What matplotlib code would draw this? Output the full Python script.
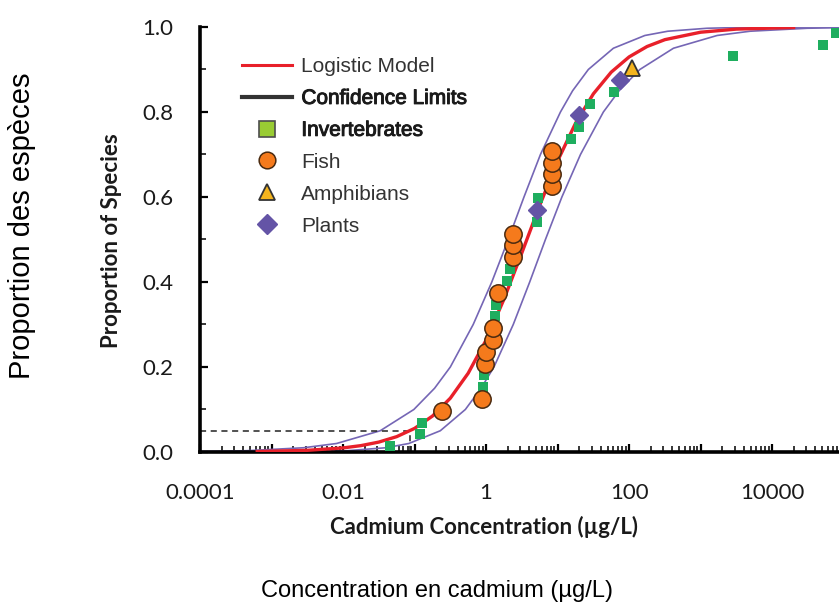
import numpy as np
import matplotlib
matplotlib.use("Agg")
import matplotlib.pyplot as plt
import matplotlib.patheffects as pe
from matplotlib.lines import Line2D
from matplotlib.ticker import LogLocator, NullFormatter, MultipleLocator, FormatStrFormatter

# fitted logistic model (log10 concentration, proportion)
model_log_conc = [-3.2, -2.5, -2.0, -1.75, -1.5, -1.25, -1.0, -0.75, -0.5, -0.25, 0.0, 0.25,
                  0.5, 0.75, 1.0, 1.25, 1.5, 1.75, 2.0, 2.25, 2.5, 3.0, 3.5, 4.3]
model_prop = [0.0011, 0.0039, 0.0096, 0.0150, 0.0233, 0.0361, 0.0555, 0.0845, 0.1266, 0.1854,
              0.2633, 0.3595, 0.4685, 0.5805, 0.6848, 0.7733, 0.8427, 0.8938, 0.9296, 0.9540,
              0.9702, 0.9877, 0.9950, 0.9988]

# confidence limits
upper_log_conc = [-4.07, -3.35, -2.55, -2.09, -1.48, -1.01, -0.72, -0.50, -0.18, 0.08, 0.31,
                  0.53, 0.76, 1.04, 1.21, 1.43, 1.78, 2.22, 2.54, 3.09, 3.58, 4.61, 4.95]
upper_prop = [0.001, 0.003, 0.01, 0.02, 0.05, 0.1, 0.15, 0.2, 0.3, 0.4, 0.5,
              0.6, 0.7, 0.8, 0.85, 0.9, 0.95, 0.98, 0.99, 0.997, 0.999, 0.9999, 1.0]
lower_log_conc = [-3.47, -2.44, -1.95, -1.40, -1.08, -0.64, -0.29, -0.07, 0.11, 0.38, 0.61, 0.83,
                  1.06, 1.32, 1.64, 1.86, 2.15, 2.62, 3.23, 3.69, 4.49, 5.21]
lower_prop = [0.0001, 0.001, 0.003, 0.01, 0.02, 0.05, 0.1, 0.15, 0.2, 0.3, 0.4, 0.5,
              0.6, 0.7, 0.8, 0.85, 0.9, 0.95, 0.98, 0.99, 0.997, 0.999]

hc5 = 0.087
hc5_prop = 0.05

# species data (ug/L, cumulative proportion)
invert_conc = [0.046, 0.119, 0.127, 0.91, 0.95, 1.34, 1.38, 1.97, 2.17, 5.16, 5.33,
               15.5, 20.0, 28.5, 61.7, 2850, 51600, 78500]
invert_prop = [0.014, 0.042, 0.069, 0.153, 0.181, 0.319, 0.347, 0.403, 0.431, 0.542, 0.597,
               0.736, 0.764, 0.819, 0.847, 0.931, 0.958, 0.986]
fish_conc = [0.243, 0.89, 0.98, 1.0, 1.25, 1.25, 1.47, 2.39, 2.39, 2.39,
             8.37, 8.37, 8.37, 8.37]
fish_prop = [0.097, 0.125, 0.208, 0.236, 0.264, 0.292, 0.375, 0.458, 0.486, 0.514,
             0.625, 0.653, 0.681, 0.708]
amph_conc = [110]
amph_prop = [0.903]
plant_conc = [5.16, 20.0, 74.8]
plant_prop = [0.569, 0.792, 0.875]

xtick_vals = [1e-4, 1e-3, 1e-2, 1e-1, 1, 10, 100, 1000, 10000]
xtick_labels = ["0.0001", "", "0.01", "", "1", "", "100", "", "10000"]

fig = plt.figure(figsize=(8.39, 6.05), dpi=100)
ax = fig.add_axes([200 / 839, 0.2529, 639 / 839, 0.7025])

red = "#e8202a"
purple = "#7566b5"

ax.plot(10 ** np.array(upper_log_conc), upper_prop, color=purple, lw=1.2, zorder=2)
ax.plot(10 ** np.array(lower_log_conc), lower_prop, color=purple, lw=1.2, zorder=2)
ax.plot(10 ** np.array(model_log_conc), model_prop, color=red, lw=2.4, zorder=3)

ax.plot([1e-4, hc5], [hc5_prop, hc5_prop], color="#222222", lw=1.1, ls=(0, (4, 3)), zorder=2)
ax.plot([hc5, hc5], [0, hc5_prop], color="#222222", lw=1.1, ls=(0, (4, 3)), zorder=2)

ax.plot(invert_conc, invert_prop, "s", color="#1fae5f", ms=7.8, mew=0, zorder=4, clip_on=False)
ax.plot(fish_conc, fish_prop, "o", color="#f57a1c", mec="#4a2a10", mew=1.1, ms=12.5, zorder=5)
ax.plot(amph_conc, amph_prop, "^", color="#f4b41e", mec="#333333", mew=1.3, ms=12, zorder=5)
ax.plot(plant_conc, plant_prop, "D", color="#6454a6", mec="#6454a6", ms=9.5, zorder=5)

ax.set_xscale("log")
ax.set_xlim(1e-4, 8.6e4)
ax.set_ylim(0, 1.0)

ax.set_xticks(xtick_vals)
ax.set_xticklabels(xtick_labels)
ax.xaxis.set_minor_locator(LogLocator(base=10, subs=np.arange(2, 10), numticks=30))
ax.xaxis.set_minor_formatter(NullFormatter())
ax.yaxis.set_major_locator(MultipleLocator(0.2))
ax.yaxis.set_minor_locator(MultipleLocator(0.1))
ax.yaxis.set_major_formatter(FormatStrFormatter("%.1f"))

ax.tick_params(axis="both", which="major", direction="in", length=6, width=1.6, color="black",
               labelsize=16, labelcolor="#1a1a1a")
ax.tick_params(axis="both", which="minor", direction="in", length=4, width=1.1, color="black")
ax.tick_params(axis="x", which="major", pad=22)
ax.tick_params(axis="y", which="major", pad=19)
for lab in ax.get_xticklabels() + ax.get_yticklabels():
    lab.set_fontfamily("Lato")

for s in ["top", "right"]:
    ax.spines[s].set_visible(False)
for s in ["left", "bottom"]:
    ax.spines[s].set_linewidth(2.6)
    ax.spines[s].set_color("black")

fig.text(112 / 839, 1 - 241 / 605, "Proportion of Species", rotation=90, ha="center", va="center",
         fontsize=16, fontweight="bold", family="Lato", color="#1a1a1a")
fig.text(484 / 839, 1 - 527 / 605, "Cadmium Concentration (\u00b5g/L)", ha="center", va="center",
         fontsize=16, fontweight="bold", family="Lato", color="#1a1a1a")

fig.text(22 / 839, 1 - 226 / 605, "Proportion des esp\u00e8ces", rotation=90, ha="center", va="center",
         fontsize=21, family="Liberation Sans", color="black")
fig.text(437 / 839, 1 - 591 / 605, "Concentration en cadmium (\u00b5g/L)", ha="center", va="center",
         fontsize=17, family="Liberation Sans", color="black")

handles = [
    Line2D([], [], color=red, lw=2.2),
    Line2D([], [], color="#333333", lw=3),
    Line2D([], [], ls="none", marker="s", color="#99cc33", mec="#4d4d4d", mew=1.2, ms=12),
    Line2D([], [], ls="none", marker="o", color="#f57a1c", mec="#4a2a10", mew=1.1, ms=12),
    Line2D([], [], ls="none", marker="^", color="#f4b41e", mec="#333333", mew=1.3, ms=12),
    Line2D([], [], ls="none", marker="D", color="#6454a6", ms=10),
]
labels = ["Logistic Model", "Confidence Limits", "Invertebrates", "Fish", "Amphibians", "Plants"]
leg = ax.legend(handles, labels, loc="upper left", bbox_to_anchor=(242 / 839, 1 - 57 / 605),
                bbox_transform=fig.transFigure, frameon=False, borderpad=0, borderaxespad=0,
                handlelength=2.4, handletextpad=0.45, labelspacing=0.62,
                prop={"family": "Liberation Sans", "size": 15})
for i, t in enumerate(leg.get_texts()):
    t.set_color("#333333")
    if i in (1, 2):
        t.set_color("#1a1a1a")
        t.set_path_effects([pe.withStroke(linewidth=0.7, foreground="#1a1a1a")])

fig.savefig("out.png", dpi=100)
